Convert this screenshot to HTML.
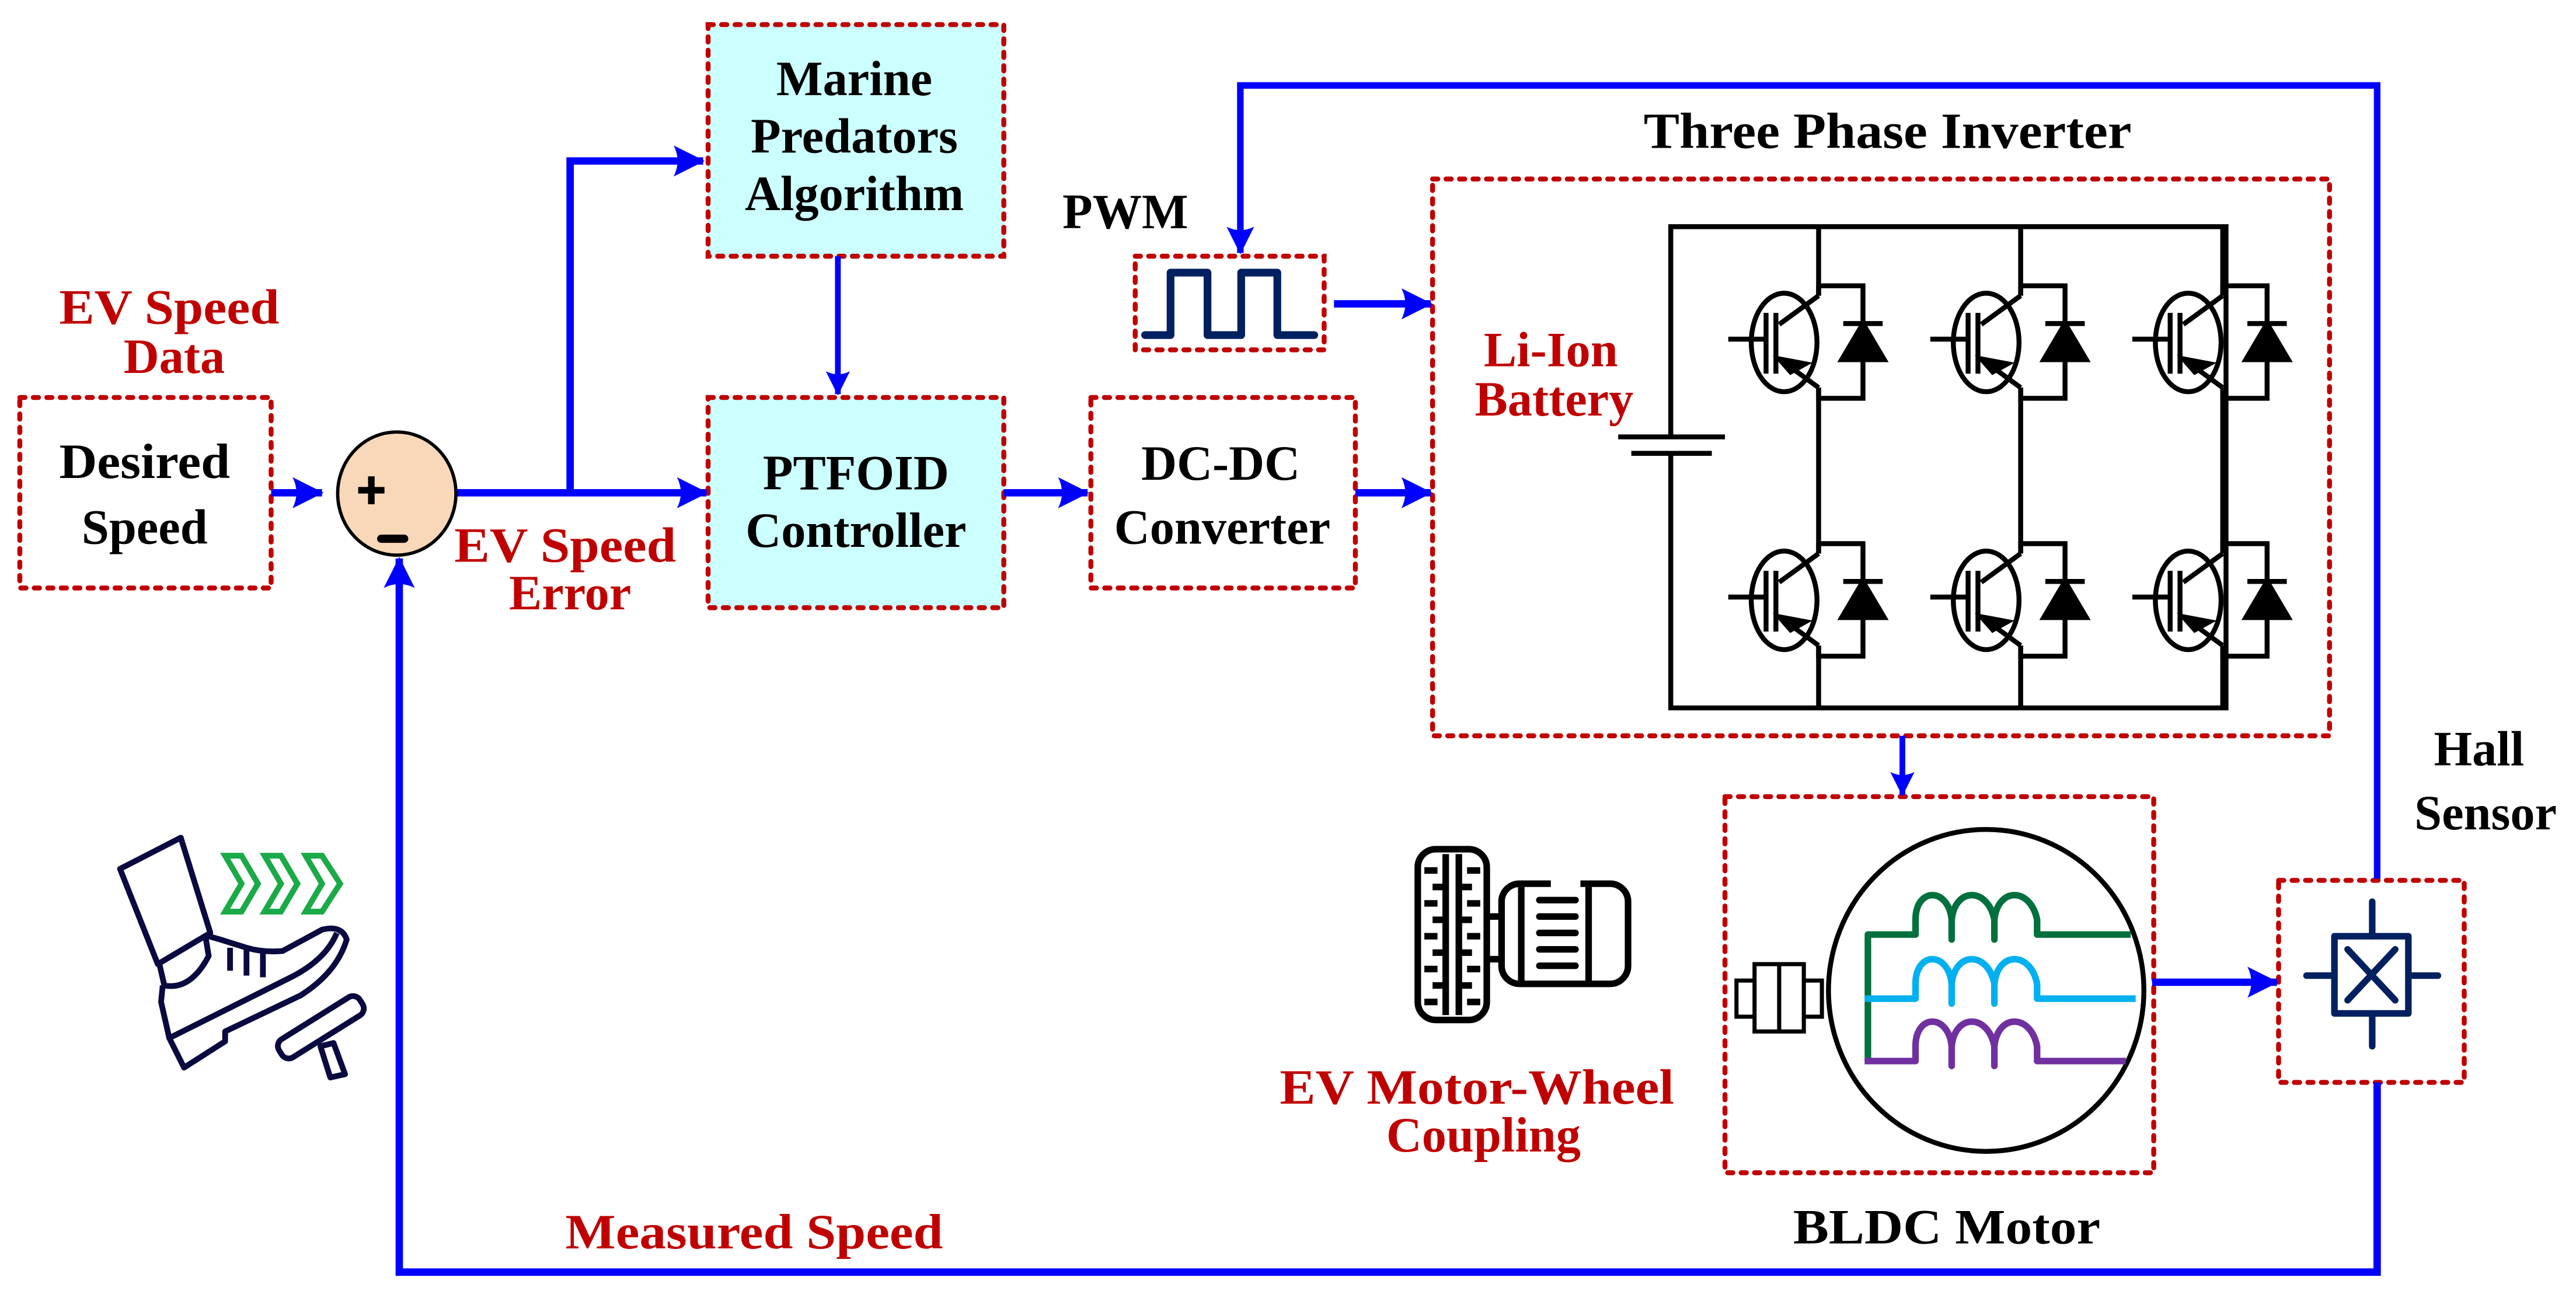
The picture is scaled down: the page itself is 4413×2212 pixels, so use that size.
<!DOCTYPE html>
<html><head><meta charset="utf-8"><style>
html,body{margin:0;padding:0;background:#fff;}
svg{display:block;}
text{font-family:"Liberation Serif",serif;font-weight:bold;}
</style></head><body>
<svg width="4413" height="2212" viewBox="0 0 1568 786" xmlns="http://www.w3.org/2000/svg">
<defs>
<marker id="ah" viewBox="0 0 20 20" refX="19" refY="10" markerWidth="4.2" markerHeight="4.6" markerUnits="strokeWidth" orient="auto">
<path d="M0,0 L20,10 L0,20 Q5,10 0,0 Z" fill="#0000ff"/>
</marker>
</defs>
<rect width="1568" height="786" fill="#fff"/>

<g fill="none" stroke="#c00000" stroke-width="3" stroke-dasharray="3.2 5" stroke-linecap="round">
<rect x="12" y="242" width="153" height="116"/>
<rect x="431" y="15" width="180" height="141" fill="#ccffff"/>
<rect x="431" y="242" width="180" height="128" fill="#ccffff"/>
<rect x="664" y="242" width="161" height="116"/>
<rect x="691" y="156" width="115" height="57"/>
<rect x="872" y="109" width="546" height="339"/>
<rect x="1050" y="485" width="261" height="229"/>
<rect x="1387" y="536" width="113" height="123"/>
</g>

<g fill="none" stroke="#0000ff" stroke-width="4.5" stroke-linejoin="miter">
<line x1="165" y1="300" x2="196" y2="300" marker-end="url(#ah)"/>
<line x1="278" y1="300" x2="430" y2="300" marker-end="url(#ah)"/>
<polyline points="347,300 347,98 428,98" marker-end="url(#ah)"/>
<line x1="611" y1="300" x2="662" y2="300" marker-end="url(#ah)"/>
<line x1="825" y1="300" x2="871" y2="300" marker-end="url(#ah)"/>
<line x1="812" y1="185" x2="871" y2="185" marker-end="url(#ah)"/>
<line x1="1310" y1="598" x2="1386" y2="598" marker-end="url(#ah)"/>
<polyline points="1447,535 1447,52 755,52 755,154" stroke-width="4" marker-end="url(#ah)"/>
<line x1="510" y1="156" x2="510" y2="240" stroke-width="3.5" marker-end="url(#ah)"/>
<line x1="1158" y1="448" x2="1158" y2="484" stroke-width="3.5" marker-end="url(#ah)"/>
<polyline points="1447,659 1447,774.5 243,774.5 243,340" stroke-width="4.5" marker-end="url(#ah)"/>
</g>

<ellipse cx="241.5" cy="300.5" rx="36" ry="37.5" fill="#f9d8ba" stroke="#000" stroke-width="2"/>
<path d="M226,290 V307 M218,298.5 H234" stroke="#000" stroke-width="4"/>
<path d="M232,328 H246" stroke="#000" stroke-width="5" stroke-linecap="round"/>

<polyline points="697,204 712.5,204 712.5,166 735,166 735,204 755.5,204 755.5,166 777.5,166 777.5,204 800,204" fill="none" stroke="#002060" stroke-width="4.7" stroke-linejoin="round" stroke-linecap="round"/>

<g stroke="#000" stroke-width="3" fill="none">
<polyline points="1017,266 1017,138 1355,138 1355,431 1017,431 1017,276"/>
<line x1="985" y1="266" x2="1050" y2="266"/>
<line x1="993" y1="276" x2="1042" y2="276"/>
</g>
<g id="cells" stroke="#000" stroke-width="3" fill="none">
</g>

<g fill="none" stroke-width="4" stroke-linejoin="round">
<ellipse cx="1209" cy="603" rx="96" ry="98" stroke="#000" stroke-width="3"/>
<path d="M1137,646 V569 H1166 V560 C1166,540 1186,540 1188,560 V572 V560 C1190,540 1210,540 1214,560 V572 V560 C1216,540 1236,540 1240,560 V569 H1297" stroke="#00703c"/>
<path d="M1135,608 H1166 V599 C1166,579 1186,579 1188,599 V611 V599 C1190,579 1210,579 1214,599 V611 V599 C1216,579 1236,579 1240,599 V608 H1300" stroke="#00b0f0"/>
<path d="M1135,646 H1166 V637 C1166,617 1186,617 1188,637 V649 V637 C1190,617 1210,617 1214,637 V649 V637 C1216,617 1236,617 1240,637 V646 H1294" stroke="#7030a0"/>
</g>
<g fill="#fff" stroke="#000" stroke-width="2.5">
<rect x="1057" y="597" width="52" height="22"/>
<rect x="1068" y="587" width="30" height="41"/>
<line x1="1083" y1="587" x2="1083" y2="628"/>
</g>

<g stroke="#002060" stroke-width="4" fill="none" stroke-linecap="round">
<rect x="1421" y="570" width="45" height="47" stroke-linejoin="round"/>
<line x1="1444" y1="549" x2="1444" y2="570"/>
<line x1="1444" y1="617" x2="1444" y2="637"/>
<line x1="1404" y1="594" x2="1421" y2="594"/>
<line x1="1466" y1="594" x2="1484" y2="594"/>
<line x1="1429" y1="578" x2="1458" y2="609"/>
<line x1="1458" y1="578" x2="1429" y2="609"/>
</g>

<g stroke="#000" stroke-width="4" fill="none">
<rect x="863" y="517" width="42" height="104" rx="11"/>
<line x1="880" y1="520" x2="880" y2="618"/>
<line x1="888" y1="520" x2="888" y2="618"/>
<path d="M867,530h8 M872,540h8 M867,550h8 M872,560h8 M867,570h8 M872,580h8 M867,590h8 M872,600h8 M867,610h8"/>
<path d="M893,530h8 M888,540h8 M893,550h8 M888,560h8 M893,570h8 M888,580h8 M893,590h8 M888,600h8 M893,610h8"/>
<path d="M905,558h8 M905,584h8"/>
<path d="M944,538 H925 a11,11 0 0 0 -11,11 V588 a11,11 0 0 0 11,11 H980 a11,11 0 0 0 11,-11 V549 a11,11 0 0 0 -11,-11 H962"/>
<line x1="926" y1="540" x2="926" y2="598"/>
<line x1="967" y1="540" x2="967" y2="598"/>
<path d="M937,548h22 M937,558h22 M937,568h22 M937,578h22 M937,588h22" stroke-linecap="round"/>
</g>

<g stroke="#0a0a40" stroke-width="3.5" fill="none" stroke-linejoin="round">
<polygon points="73,529 110,510 128,568 96,587"/>
<path d="M97,587 L100,600 Q116,603 127,582 L125,570"/>
<path d="M99,600 L98,610 L103,632 L112,650 L137,634 L137,628 L183,606 Q205,592 211,572 Q208,563 196,566 Q185,572 172,579 Q160,580 150,577 L134,572 L127,570"/>
<path d="M103,632 L175,596 Q198,585 205,568"/>
<path d="M140,577 V591 M150,578 V594 M160,579 V595"/>
<rect x="166" y="619" width="58" height="13" rx="5" transform="rotate(-32 195 625)"/>
<polygon points="195,637 203,635 210,654 201,656"/>
</g>
<g stroke="#1aaa48" stroke-width="3.5" fill="none" stroke-linejoin="miter">
<polygon points="137,521 147,521 157,538 147,555 137,555 147,538"/>
<polygon points="161,521 171,521 181,538 171,555 161,555 171,538"/>
<polygon points="186,521 196,521 207,538 196,555 186,555 196,538"/>
</g>

<g font-size="30" text-anchor="middle" fill="#000">
<text x="88" y="291" textLength="104" lengthAdjust="spacingAndGlyphs">Desired</text>
<text x="88" y="331">Speed</text>
<text x="520" y="58">Marine</text>
<text x="520" y="93">Predators</text>
<text x="520" y="128">Algorithm</text>
<text x="521" y="298">PTFOID</text>
<text x="521" y="333">Controller</text>
<text x="743" y="292">DC-DC</text>
<text x="744" y="331">Converter</text>
<text x="685" y="139">PWM</text>
<text x="1149" y="90" font-size="31" textLength="297" lengthAdjust="spacingAndGlyphs">Three Phase Inverter</text>
<text x="1509" y="466">Hall</text>
<text x="1513" y="505">Sensor</text>
<text x="1185" y="757" textLength="187" lengthAdjust="spacingAndGlyphs">BLDC Motor</text>
</g>
<g font-size="30" text-anchor="middle" fill="#c00000">
<text x="103" y="197" textLength="134" lengthAdjust="spacingAndGlyphs">EV Speed</text>
<text x="106" y="227">Data</text>
<text x="344" y="342" textLength="135" lengthAdjust="spacingAndGlyphs">EV Speed</text>
<text x="347" y="371">Error</text>
<text x="944" y="223">Li-Ion</text>
<text x="946" y="253">Battery</text>
<text x="899" y="672" textLength="240" lengthAdjust="spacingAndGlyphs">EV Motor-Wheel</text>
<text x="903" y="701">Coupling</text>
<text x="459" y="760" textLength="230" lengthAdjust="spacingAndGlyphs">Measured Speed</text>
</g>

<script>
(function(){
var g=document.getElementById('cells');var ns='http://www.w3.org/2000/svg';
function add(tag,attrs){var e=document.createElementNS(ns,tag);for(var k in attrs)e.setAttribute(k,attrs[k]);g.appendChild(e);return e;}
var legs=[1107,1230,1353], cs=[208.5,365.5];
legs.forEach(function(L,i){
  add('line',{x1:L,y1:138,x2:L,y2:cs[0]-28.5});
  add('line',{x1:L,y1:cs[0]+27.5,x2:L,y2:cs[1]-28.5});
  add('line',{x1:L,y1:cs[1]+27.5,x2:L,y2:431});
  cs.forEach(function(C){
    add('ellipse',{cx:L-21,cy:C,rx:20,ry:30});
    add('line',{x1:L-24,y1:C-11,x2:L,y2:C-28.5});
    add('line',{x1:L-24,y1:C+10,x2:L,y2:C+27.5});
    add('line',{x1:L-32,y1:C-18,x2:L-32,y2:C+19});
    add('line',{x1:L-26,y1:C-18,x2:L-26,y2:C+19});
    add('line',{x1:L-55,y1:C-2,x2:L-32,y2:C-2});
    add('polygon',{points:(L-24)+','+(C+10)+' '+(L-8)+','+(C+13)+' '+(L-17)+','+(C+18),fill:'#000'});
    add('polyline',{points:L+','+(C-28.5)+' '+L+','+(C-34.5)+' '+(L+27)+','+(C-34.5)+' '+(L+27)+','+(C+34)+' '+L+','+(C+34)+' '+L+','+(C+27.5)});
    add('line',{x1:L+15,y1:C-11.5,x2:L+39,y2:C-11.5});
    add('polygon',{points:(L+27)+','+(C-11.5)+' '+(L+14)+','+(C+10.5)+' '+(L+40)+','+(C+10.5),fill:'#000'});
  });
});
})();
</script>
</svg>
</body></html>
